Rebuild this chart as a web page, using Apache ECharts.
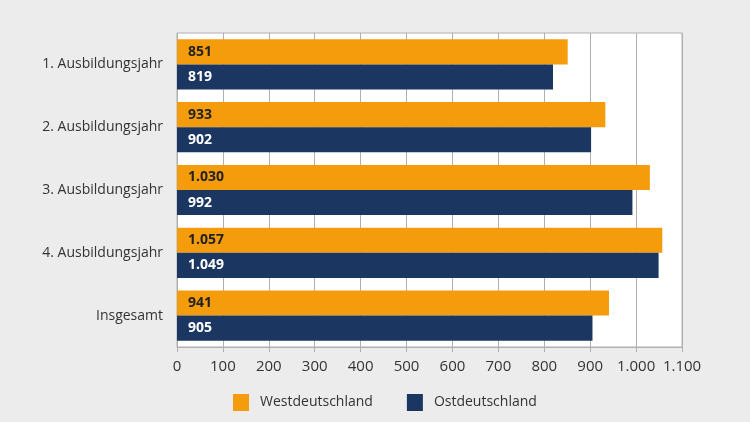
<!DOCTYPE html>
<html><head><meta charset="utf-8">
<script src="https://cdn.jsdelivr.net/npm/echarts@6/dist/echarts.min.js"></script>
<style>html,body{margin:0;padding:0;background:#ececec}#c{width:750px;height:422px}</style>
</head><body><div id="c"></div>
<script>
const categories = ['1. Ausbildungsjahr','2. Ausbildungsjahr','3. Ausbildungsjahr','4. Ausbildungsjahr','Insgesamt'];
const west = [851, 933, 1030, 1057, 941];
const ost = [819, 902, 992, 1049, 905];
const seriesNames = ['Westdeutschland','Ostdeutschland'];
const xTicks = [0,100,200,300,400,500,600,700,800,900,1000,1100];

const fmt = v => String(v).replace(/\B(?=(\d{3})+(?!\d))/g, '.');
const FONT = 'Open Sans';
const chart = echarts.init(document.getElementById('c'));
chart.setOption({
  backgroundColor: '#ececec',
  animation: false,
  textStyle: {fontFamily: FONT},
  grid: {left: 177, right: 68, top: 33, bottom: 75, show: true, backgroundColor: '#fff', borderColor: '#b0b0b0', borderWidth: 1},
  legend: {
    bottom: 6, left: 228, itemWidth: 16, itemHeight: 17, itemGap: 34, icon: 'rect',
    textStyle: {fontSize: 14, color: '#333', fontFamily: FONT, padding: [0,0,0,6]},
    data: seriesNames
  },
  xAxis: {
    type: 'value', min: xTicks[0], max: xTicks[xTicks.length-1], interval: 100,
    axisLine: {show: true, lineStyle: {color: '#b0b0b0'}},
    axisTick: {show: true, length: 5, lineStyle: {color: '#b0b0b0'}},
    splitLine: {show: true, lineStyle: {color: '#b0b0b0'}},
    axisLabel: {fontSize: 15, color: '#333', margin: 12, formatter: v => fmt(v)}
  },
  yAxis: {
    type: 'category', data: categories, inverse: true,
    axisLine: {show: false}, axisTick: {show: false},
    axisLabel: {fontSize: 14, color: '#333', margin: 14}
  },
  series: [
    {name: seriesNames[0], type: 'bar', data: west, barGap: '0%', barCategoryGap: '20%',
     itemStyle: {color: '#f59c0d'},
     label: {show: true, position: 'insideLeft', offset: [6,0], fontSize: 14, fontWeight: 'bold', color: '#222', formatter: p => fmt(p.value)}},
    {name: seriesNames[1], type: 'bar', data: ost, barGap: '0%', barCategoryGap: '20%',
     itemStyle: {color: '#1b3660'},
     label: {show: true, position: 'insideLeft', offset: [6,0], fontSize: 14, fontWeight: 'bold', color: '#fff', formatter: p => fmt(p.value)}}
  ]
});
</script></body></html>
